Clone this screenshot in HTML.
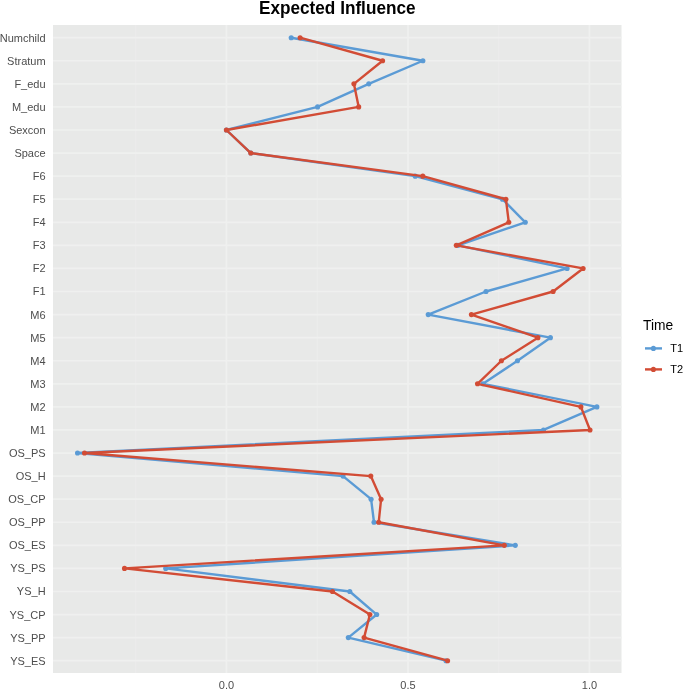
<!DOCTYPE html><html><head><meta charset="utf-8"><style>html,body{margin:0;padding:0;background:#fff;}body{width:685px;height:690px;overflow:hidden;}svg{display:block;will-change:transform;}text{font-family:"Liberation Sans",sans-serif;}</style></head><body>
<svg width="685" height="690" viewBox="0 0 685 690">
<rect x="0" y="0" width="685" height="690" fill="#ffffff"/>
<rect x="53.0" y="25.0" width="568.5" height="648.0" fill="#E8E9E8"/>
<line x1="135.70" y1="25.0" x2="135.70" y2="673.0" stroke="#EBECEB" stroke-width="1.2"/>
<line x1="317.20" y1="25.0" x2="317.20" y2="673.0" stroke="#EBECEB" stroke-width="1.2"/>
<line x1="498.70" y1="25.0" x2="498.70" y2="673.0" stroke="#EBECEB" stroke-width="1.2"/>
<line x1="53.0" y1="37.70" x2="621.5" y2="37.70" stroke="#EFF0EF" stroke-width="1.7"/>
<line x1="53.0" y1="60.77" x2="621.5" y2="60.77" stroke="#EFF0EF" stroke-width="1.7"/>
<line x1="53.0" y1="83.85" x2="621.5" y2="83.85" stroke="#EFF0EF" stroke-width="1.7"/>
<line x1="53.0" y1="106.92" x2="621.5" y2="106.92" stroke="#EFF0EF" stroke-width="1.7"/>
<line x1="53.0" y1="130.00" x2="621.5" y2="130.00" stroke="#EFF0EF" stroke-width="1.7"/>
<line x1="53.0" y1="153.07" x2="621.5" y2="153.07" stroke="#EFF0EF" stroke-width="1.7"/>
<line x1="53.0" y1="176.14" x2="621.5" y2="176.14" stroke="#EFF0EF" stroke-width="1.7"/>
<line x1="53.0" y1="199.22" x2="621.5" y2="199.22" stroke="#EFF0EF" stroke-width="1.7"/>
<line x1="53.0" y1="222.29" x2="621.5" y2="222.29" stroke="#EFF0EF" stroke-width="1.7"/>
<line x1="53.0" y1="245.37" x2="621.5" y2="245.37" stroke="#EFF0EF" stroke-width="1.7"/>
<line x1="53.0" y1="268.44" x2="621.5" y2="268.44" stroke="#EFF0EF" stroke-width="1.7"/>
<line x1="53.0" y1="291.51" x2="621.5" y2="291.51" stroke="#EFF0EF" stroke-width="1.7"/>
<line x1="53.0" y1="314.59" x2="621.5" y2="314.59" stroke="#EFF0EF" stroke-width="1.7"/>
<line x1="53.0" y1="337.66" x2="621.5" y2="337.66" stroke="#EFF0EF" stroke-width="1.7"/>
<line x1="53.0" y1="360.74" x2="621.5" y2="360.74" stroke="#EFF0EF" stroke-width="1.7"/>
<line x1="53.0" y1="383.81" x2="621.5" y2="383.81" stroke="#EFF0EF" stroke-width="1.7"/>
<line x1="53.0" y1="406.88" x2="621.5" y2="406.88" stroke="#EFF0EF" stroke-width="1.7"/>
<line x1="53.0" y1="429.96" x2="621.5" y2="429.96" stroke="#EFF0EF" stroke-width="1.7"/>
<line x1="53.0" y1="453.03" x2="621.5" y2="453.03" stroke="#EFF0EF" stroke-width="1.7"/>
<line x1="53.0" y1="476.11" x2="621.5" y2="476.11" stroke="#EFF0EF" stroke-width="1.7"/>
<line x1="53.0" y1="499.18" x2="621.5" y2="499.18" stroke="#EFF0EF" stroke-width="1.7"/>
<line x1="53.0" y1="522.25" x2="621.5" y2="522.25" stroke="#EFF0EF" stroke-width="1.7"/>
<line x1="53.0" y1="545.33" x2="621.5" y2="545.33" stroke="#EFF0EF" stroke-width="1.7"/>
<line x1="53.0" y1="568.40" x2="621.5" y2="568.40" stroke="#EFF0EF" stroke-width="1.7"/>
<line x1="53.0" y1="591.48" x2="621.5" y2="591.48" stroke="#EFF0EF" stroke-width="1.7"/>
<line x1="53.0" y1="614.55" x2="621.5" y2="614.55" stroke="#EFF0EF" stroke-width="1.7"/>
<line x1="53.0" y1="637.62" x2="621.5" y2="637.62" stroke="#EFF0EF" stroke-width="1.7"/>
<line x1="53.0" y1="660.70" x2="621.5" y2="660.70" stroke="#EFF0EF" stroke-width="1.7"/>
<line x1="226.45" y1="25.0" x2="226.45" y2="673.0" stroke="#EFF0EF" stroke-width="1.7"/>
<line x1="407.95" y1="25.0" x2="407.95" y2="673.0" stroke="#EFF0EF" stroke-width="1.7"/>
<line x1="589.45" y1="25.0" x2="589.45" y2="673.0" stroke="#EFF0EF" stroke-width="1.7"/>
<polyline points="291.2,37.70 422.9,60.77 368.8,83.85 317.6,106.92 226.4,130.00 250.8,153.07 415.2,176.14 502.5,199.22 525.3,222.29 458.0,245.37 567.1,268.44 486.0,291.51 428.2,314.59 550.4,337.66 517.5,360.74 483.0,383.81 596.9,406.88 543.5,429.96 77.5,453.03 343.0,476.11 371.1,499.18 374.0,522.25 515.3,545.33 165.7,568.40 349.8,591.48 376.7,614.55 348.3,637.62 446.0,660.70" fill="none" stroke="#5B9BD5" stroke-width="2.4" stroke-linejoin="round" stroke-linecap="butt"/><circle cx="291.2" cy="37.70" r="2.55" fill="#5B9BD5"/><circle cx="422.9" cy="60.77" r="2.55" fill="#5B9BD5"/><circle cx="368.8" cy="83.85" r="2.55" fill="#5B9BD5"/><circle cx="317.6" cy="106.92" r="2.55" fill="#5B9BD5"/><circle cx="226.4" cy="130.00" r="2.55" fill="#5B9BD5"/><circle cx="250.8" cy="153.07" r="2.55" fill="#5B9BD5"/><circle cx="415.2" cy="176.14" r="2.55" fill="#5B9BD5"/><circle cx="502.5" cy="199.22" r="2.55" fill="#5B9BD5"/><circle cx="525.3" cy="222.29" r="2.55" fill="#5B9BD5"/><circle cx="458.0" cy="245.37" r="2.55" fill="#5B9BD5"/><circle cx="567.1" cy="268.44" r="2.55" fill="#5B9BD5"/><circle cx="486.0" cy="291.51" r="2.55" fill="#5B9BD5"/><circle cx="428.2" cy="314.59" r="2.55" fill="#5B9BD5"/><circle cx="550.4" cy="337.66" r="2.55" fill="#5B9BD5"/><circle cx="517.5" cy="360.74" r="2.55" fill="#5B9BD5"/><circle cx="483.0" cy="383.81" r="2.55" fill="#5B9BD5"/><circle cx="596.9" cy="406.88" r="2.55" fill="#5B9BD5"/><circle cx="543.5" cy="429.96" r="2.55" fill="#5B9BD5"/><circle cx="77.5" cy="453.03" r="2.55" fill="#5B9BD5"/><circle cx="343.0" cy="476.11" r="2.55" fill="#5B9BD5"/><circle cx="371.1" cy="499.18" r="2.55" fill="#5B9BD5"/><circle cx="374.0" cy="522.25" r="2.55" fill="#5B9BD5"/><circle cx="515.3" cy="545.33" r="2.55" fill="#5B9BD5"/><circle cx="165.7" cy="568.40" r="2.55" fill="#5B9BD5"/><circle cx="349.8" cy="591.48" r="2.55" fill="#5B9BD5"/><circle cx="376.7" cy="614.55" r="2.55" fill="#5B9BD5"/><circle cx="348.3" cy="637.62" r="2.55" fill="#5B9BD5"/><circle cx="446.0" cy="660.70" r="2.55" fill="#5B9BD5"/>
<polyline points="300.1,37.70 382.6,60.77 353.9,83.85 358.7,106.92 226.4,130.00 250.8,153.07 422.8,176.14 505.9,199.22 508.8,222.29 456.3,245.37 583.1,268.44 553.1,291.51 471.4,314.59 537.9,337.66 501.4,360.74 477.5,383.81 580.9,406.88 590.0,429.96 84.5,453.03 370.8,476.11 381.1,499.18 378.7,522.25 504.3,545.33 124.5,568.40 332.5,591.48 369.9,614.55 364.1,637.62 447.6,660.70" fill="none" stroke="#D24C35" stroke-width="2.4" stroke-linejoin="round" stroke-linecap="butt"/><circle cx="300.1" cy="37.70" r="2.55" fill="#D24C35"/><circle cx="382.6" cy="60.77" r="2.55" fill="#D24C35"/><circle cx="353.9" cy="83.85" r="2.55" fill="#D24C35"/><circle cx="358.7" cy="106.92" r="2.55" fill="#D24C35"/><circle cx="226.4" cy="130.00" r="2.55" fill="#D24C35"/><circle cx="250.8" cy="153.07" r="2.55" fill="#D24C35"/><circle cx="422.8" cy="176.14" r="2.55" fill="#D24C35"/><circle cx="505.9" cy="199.22" r="2.55" fill="#D24C35"/><circle cx="508.8" cy="222.29" r="2.55" fill="#D24C35"/><circle cx="456.3" cy="245.37" r="2.55" fill="#D24C35"/><circle cx="583.1" cy="268.44" r="2.55" fill="#D24C35"/><circle cx="553.1" cy="291.51" r="2.55" fill="#D24C35"/><circle cx="471.4" cy="314.59" r="2.55" fill="#D24C35"/><circle cx="537.9" cy="337.66" r="2.55" fill="#D24C35"/><circle cx="501.4" cy="360.74" r="2.55" fill="#D24C35"/><circle cx="477.5" cy="383.81" r="2.55" fill="#D24C35"/><circle cx="580.9" cy="406.88" r="2.55" fill="#D24C35"/><circle cx="590.0" cy="429.96" r="2.55" fill="#D24C35"/><circle cx="84.5" cy="453.03" r="2.55" fill="#D24C35"/><circle cx="370.8" cy="476.11" r="2.55" fill="#D24C35"/><circle cx="381.1" cy="499.18" r="2.55" fill="#D24C35"/><circle cx="378.7" cy="522.25" r="2.55" fill="#D24C35"/><circle cx="504.3" cy="545.33" r="2.55" fill="#D24C35"/><circle cx="124.5" cy="568.40" r="2.55" fill="#D24C35"/><circle cx="332.5" cy="591.48" r="2.55" fill="#D24C35"/><circle cx="369.9" cy="614.55" r="2.55" fill="#D24C35"/><circle cx="364.1" cy="637.62" r="2.55" fill="#D24C35"/><circle cx="447.6" cy="660.70" r="2.55" fill="#D24C35"/>
<g class="t">
<text x="45.6" y="41.65" font-size="11.0" fill="#4D4D4D" text-anchor="end">Numchild</text>
<text x="45.6" y="64.72" font-size="11.0" fill="#4D4D4D" text-anchor="end">Stratum</text>
<text x="45.6" y="87.80" font-size="11.0" fill="#4D4D4D" text-anchor="end">F_edu</text>
<text x="45.6" y="110.87" font-size="11.0" fill="#4D4D4D" text-anchor="end">M_edu</text>
<text x="45.6" y="133.95" font-size="11.0" fill="#4D4D4D" text-anchor="end">Sexcon</text>
<text x="45.6" y="157.02" font-size="11.0" fill="#4D4D4D" text-anchor="end">Space</text>
<text x="45.6" y="180.09" font-size="11.0" fill="#4D4D4D" text-anchor="end">F6</text>
<text x="45.6" y="203.17" font-size="11.0" fill="#4D4D4D" text-anchor="end">F5</text>
<text x="45.6" y="226.24" font-size="11.0" fill="#4D4D4D" text-anchor="end">F4</text>
<text x="45.6" y="249.32" font-size="11.0" fill="#4D4D4D" text-anchor="end">F3</text>
<text x="45.6" y="272.39" font-size="11.0" fill="#4D4D4D" text-anchor="end">F2</text>
<text x="45.6" y="295.46" font-size="11.0" fill="#4D4D4D" text-anchor="end">F1</text>
<text x="45.6" y="318.54" font-size="11.0" fill="#4D4D4D" text-anchor="end">M6</text>
<text x="45.6" y="341.61" font-size="11.0" fill="#4D4D4D" text-anchor="end">M5</text>
<text x="45.6" y="364.69" font-size="11.0" fill="#4D4D4D" text-anchor="end">M4</text>
<text x="45.6" y="387.76" font-size="11.0" fill="#4D4D4D" text-anchor="end">M3</text>
<text x="45.6" y="410.83" font-size="11.0" fill="#4D4D4D" text-anchor="end">M2</text>
<text x="45.6" y="433.91" font-size="11.0" fill="#4D4D4D" text-anchor="end">M1</text>
<text x="45.6" y="456.98" font-size="11.0" fill="#4D4D4D" text-anchor="end">OS_PS</text>
<text x="45.6" y="480.06" font-size="11.0" fill="#4D4D4D" text-anchor="end">OS_H</text>
<text x="45.6" y="503.13" font-size="11.0" fill="#4D4D4D" text-anchor="end">OS_CP</text>
<text x="45.6" y="526.20" font-size="11.0" fill="#4D4D4D" text-anchor="end">OS_PP</text>
<text x="45.6" y="549.28" font-size="11.0" fill="#4D4D4D" text-anchor="end">OS_ES</text>
<text x="45.6" y="572.35" font-size="11.0" fill="#4D4D4D" text-anchor="end">YS_PS</text>
<text x="45.6" y="595.43" font-size="11.0" fill="#4D4D4D" text-anchor="end">YS_H</text>
<text x="45.6" y="618.50" font-size="11.0" fill="#4D4D4D" text-anchor="end">YS_CP</text>
<text x="45.6" y="641.57" font-size="11.0" fill="#4D4D4D" text-anchor="end">YS_PP</text>
<text x="45.6" y="664.65" font-size="11.0" fill="#4D4D4D" text-anchor="end">YS_ES</text>
<text x="226.45" y="688.9" font-size="11.0" fill="#4D4D4D" text-anchor="middle">0.0</text>
<text x="407.95" y="688.9" font-size="11.0" fill="#4D4D4D" text-anchor="middle">0.5</text>
<text x="589.45" y="688.9" font-size="11.0" fill="#4D4D4D" text-anchor="middle">1.0</text>
<text transform="translate(337.25,13.75) scale(1,1.07)" x="0" y="0" font-size="17.2" font-weight="bold" fill="#000" text-anchor="middle">Expected Influence</text>
<text x="643" y="329.8" font-size="13.8" fill="#000">Time</text>
</g>
<line x1="645" y1="348.4" x2="662" y2="348.4" stroke="#5B9BD5" stroke-width="2.4"/>
<circle cx="653.4" cy="348.4" r="2.55" fill="#5B9BD5"/>
<text x="670.3" y="352.2" font-size="11.0" fill="#000">T1</text>
<line x1="645" y1="369.4" x2="662" y2="369.4" stroke="#D24C35" stroke-width="2.4"/>
<circle cx="653.4" cy="369.4" r="2.55" fill="#D24C35"/>
<text x="670.3" y="373.2" font-size="11.0" fill="#000">T2</text>
</svg></body></html>
